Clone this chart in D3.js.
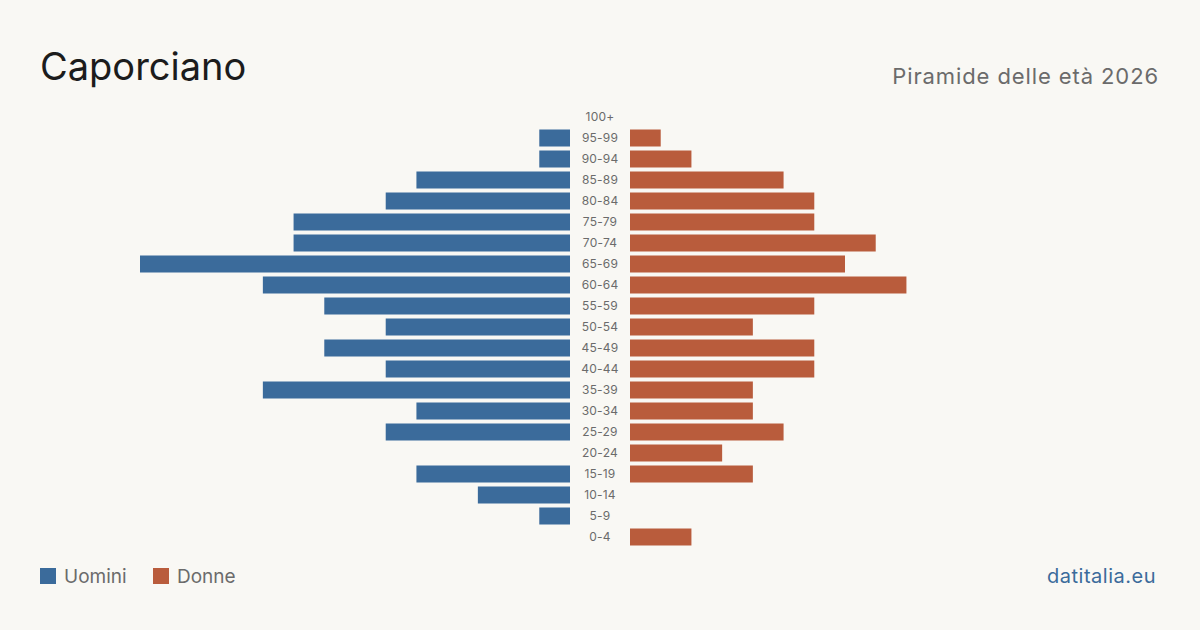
<!DOCTYPE html>
<html><head><meta charset="utf-8">
<script src="https://cdn.jsdelivr.net/npm/d3@7"></script>
<style>html,body{margin:0;padding:0;background:#f9f8f4;}svg{display:block;font-family:Inter,"Liberation Sans",sans-serif;}</style>
</head><body>
<svg id="c" width="1200" height="630"></svg>
<script>
const ageGroups = ["100+","95-99","90-94","85-89","80-84","75-79","70-74","65-69","60-64","55-59","50-54","45-49","40-44","35-39","30-34","25-29","20-24","15-19","10-14","5-9","0-4"];
const men   = [0,1,1,5,6,9,9,14,10,8,6,8,6,10,5,6,0,5,3,1,0];
const women = [0,1,2,5,6,6,8,7,9,6,4,6,6,4,4,5,3,4,0,0,2];
const title = "Caporciano";
const subtitle = "Piramide delle età 2026";
const legendLabels = ["Uomini","Donne"];
const source = "datitalia.eu";

const svg = d3.select("#c");
svg.append("rect").attr("width",1200).attr("height",630).attr("fill","#f9f8f4");
const blue="#3b6b9b", red="#b95c3c";

const y = d3.scaleBand().domain(ageGroups).range([106.5,547.5]).paddingInner(4/21).paddingOuter(2/21);
const xL = d3.scaleLinear().domain([0,14]).range([570,140]);
const xR = d3.scaleLinear().domain([0,14]).range([630,1060]);

svg.append("text").attr("x",40).attr("y",80).attr("font-size",38).attr("fill","#1c1c1c").text(title);
svg.append("text").attr("x",1159).attr("y",84).attr("text-anchor","end").attr("font-size",22).attr("letter-spacing",0.9).attr("fill","#6b6b6b").text(subtitle);

svg.append("g").selectAll("rect").data(ageGroups).join("rect")
  .attr("x",(d,i)=>xL(men[i])).attr("y",d=>y(d)).attr("width",(d,i)=>xL(0)-xL(men[i])).attr("height",y.bandwidth()).attr("fill",blue);
svg.append("g").selectAll("rect").data(ageGroups).join("rect")
  .attr("x",xR(0)).attr("y",d=>y(d)).attr("width",(d,i)=>xR(women[i])-xR(0)).attr("height",y.bandwidth()).attr("fill",red);
svg.append("g").selectAll("text").data(ageGroups).join("text")
  .attr("x",600).attr("y",d=>y(d)+y.bandwidth()/2).attr("dy","0.35em").attr("text-anchor","middle")
  .attr("font-size",12).attr("letter-spacing",0.2).attr("fill","#6b6b6b").text(d=>d);

const lg = svg.append("g");
[[40,blue,64],[153,red,177]].forEach((p,i)=>{
  lg.append("rect").attr("x",p[0]).attr("y",568).attr("width",16).attr("height",16).attr("fill",p[1]);
  lg.append("text").attr("x",p[2]).attr("y",583).attr("font-size",19).attr("fill","#6b6b6b").text(legendLabels[i]);
});
svg.append("text").attr("x",1156).attr("y",583).attr("text-anchor","end").attr("font-size",20).attr("letter-spacing",0.5).attr("fill","#3b6b9b").text(source);
</script>
</body></html>
